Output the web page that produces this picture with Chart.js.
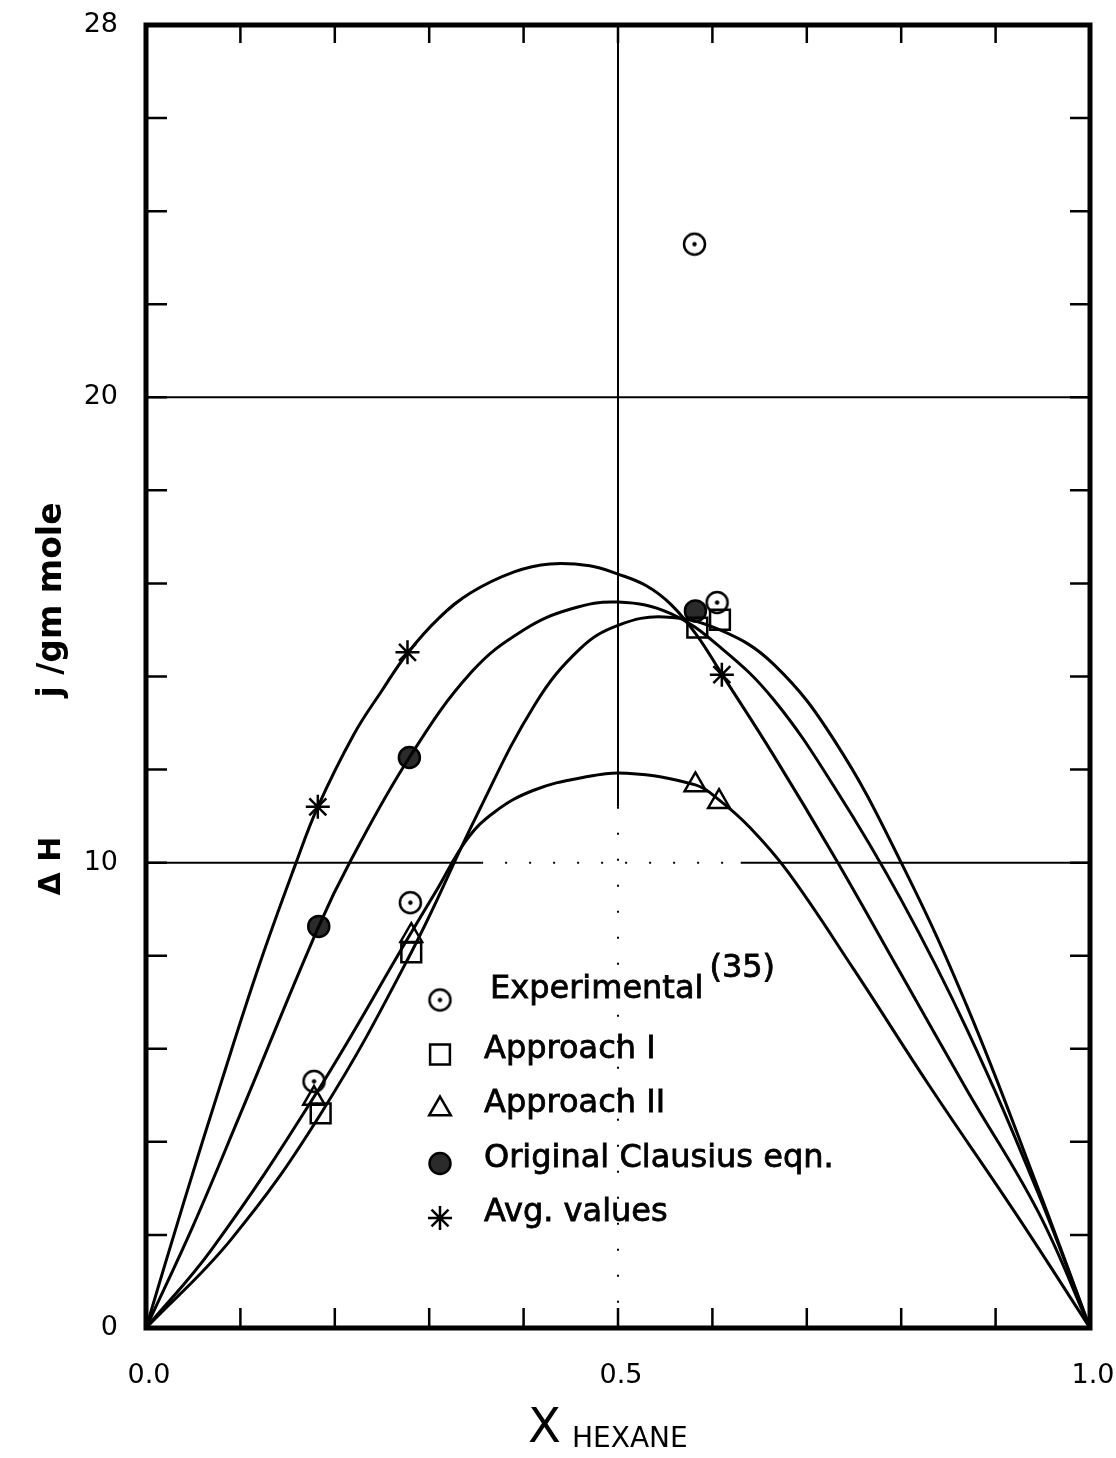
<!DOCTYPE html>
<html>
<head>
<meta charset="utf-8">
<script src="https://cdn.jsdelivr.net/npm/chart.js@4.4.1/dist/chart.umd.min.js"></script>
<style>
  html, body { margin: 0; padding: 0; background: #fff; }
</style>
</head>
<body>
<canvas id="dh" width="1116" height="1458"></canvas>
<script>
// smoothed curves, x = mole fraction hexane, y = dH (j/gm mole)
const avgCurveX = [0, 0.04, 0.08, 0.12, 0.159, 0.182, 0.22, 0.25, 0.277, 0.31, 0.344, 0.39, 0.428, 0.47, 0.5, 0.53, 0.556, 0.583, 0.61, 0.665, 0.73, 0.8, 0.87, 0.945, 1.0];
const avgCurveY = [0, 2.7, 5.3, 7.8, 10.0, 11.2, 12.75, 13.7, 14.5, 15.25, 15.8, 16.25, 16.42, 16.38, 16.2, 15.95, 15.55, 14.9, 14.05, 12.3, 10.1, 7.6, 5.1, 2.5, 0];

const clausCurveX = [0, 0.05, 0.1, 0.183, 0.217, 0.279, 0.345, 0.4, 0.45, 0.5, 0.556, 0.61, 0.665, 0.73, 0.8, 0.87, 0.945, 1.0];
const clausCurveY = [0, 2.2, 4.6, 8.63, 10.05, 12.26, 14.1, 15.0, 15.45, 15.6, 15.35, 14.6, 13.5, 11.6, 9.2, 6.4, 2.9, 0];

const app1CurveX = [0, 0.09, 0.185, 0.281, 0.35, 0.412, 0.46, 0.5, 0.549, 0.608, 0.665, 0.73, 0.8, 0.87, 0.945, 1.0];
const app1CurveY = [0, 1.9, 4.6, 8.07, 11.0, 13.4, 14.6, 15.1, 15.28, 15.0, 14.26, 12.6, 10.0, 6.9, 3.0, 0];

const app2CurveX = [0, 0.07, 0.179, 0.281, 0.308, 0.34, 0.37, 0.41, 0.46, 0.509, 0.582, 0.607, 0.64, 0.68, 0.75, 0.83, 0.92, 1.0];
const app2CurveY = [0, 1.7, 5.0, 8.5, 9.41, 10.5, 11.1, 11.55, 11.82, 11.92, 11.67, 11.35, 10.75, 9.8, 7.7, 5.2, 2.5, 0];

// plotted points
const expX = [0.178, 0.28, 0.581, 0.605];
const expY = [5.3, 9.14, 23.29, 15.59];
const app1X = [0.185, 0.281, 0.584, 0.608];
const app1Y = [4.61, 8.07, 15.05, 15.22];
const app2X = [0.178, 0.281, 0.582, 0.607];
const app2Y = [4.93, 8.43, 11.67, 11.31];
const clausX = [0.183, 0.279, 0.582];
const clausY = [8.63, 12.26, 15.41];
const avgX = [0.182, 0.277, 0.61];
const avgY = [11.2, 14.52, 14.04];

const seriesNames = ['Experimental', 'Approach I', 'Approach II', 'Original Clausius eqn.', 'Avg. values'];
const yLabels = [0, 10, 20, 28];
const xLabels = [0, 0.5, 1.0];

const FONT = '"DejaVu Sans", sans-serif';

function pts(xs, ys) {
  return xs.map((x, i) => ({ x: x, y: ys[i] }));
}

// circle with a dot in the middle
function dotCircle(r) {
  const c = document.createElement('canvas');
  const s = Math.ceil(r * 2 + 6);
  c.width = s; c.height = s;
  const g = c.getContext('2d');
  g.strokeStyle = '#000';
  g.lineWidth = 2.5;
  g.beginPath(); g.arc(s / 2, s / 2, r, 0, Math.PI * 2); g.stroke();
  g.fillStyle = '#000';
  g.beginPath(); g.arc(s / 2, s / 2, 2.2, 0, Math.PI * 2); g.fill();
  return c;
}

function curve(xs, ys) {
  return {
    data: pts(xs, ys),
    showLine: true,
    borderColor: '#000',
    borderWidth: 3,
    pointRadius: 0,
    tension: 0.4,
    isCurve: true
  };
}

function marks(label, xs, ys, style, r, fill) {
  return {
    label: label,
    data: pts(xs, ys),
    showLine: false,
    pointStyle: style,
    pointRadius: r,
    pointBorderWidth: 2.5,
    pointBorderColor: '#000',
    pointBackgroundColor: fill
  };
}

const guides = {
  id: 'guides',
  beforeDatasetsDraw(chart) {
    const { ctx, chartArea: a, scales: { x, y } } = chart;
    ctx.save();
    ctx.strokeStyle = '#000';
    function seg(x1, y1, x2, y2, w, dash) {
      ctx.lineWidth = w;
      ctx.setLineDash(dash || []);
      ctx.beginPath();
      ctx.moveTo(x.getPixelForValue(x1), y.getPixelForValue(y1));
      ctx.lineTo(x.getPixelForValue(x2), y.getPixelForValue(y2));
      ctx.stroke();
    }
    seg(0, 20, 1, 20, 2);
    seg(0, 10, 0.355, 10, 2);
    seg(0.355, 10, 0.63, 10, 2, [2, 22]);
    seg(0.63, 10, 1, 10, 2);
    seg(0.5, 28, 0.5, 11.2, 2);
    seg(0.5, 11.2, 0.5, 0, 2, [2, 24]);
    ctx.setLineDash([]);

    // inward tick marks on all four sides
    ctx.lineWidth = 2.5;
    y.ticks.forEach(t => {
      const py = y.getPixelForValue(t.value);
      ctx.beginPath();
      ctx.moveTo(a.left, py); ctx.lineTo(a.left + 21, py);
      ctx.moveTo(a.right, py); ctx.lineTo(a.right - 20, py);
      ctx.stroke();
    });
    x.ticks.forEach(t => {
      const px = x.getPixelForValue(t.value);
      ctx.beginPath();
      ctx.moveTo(px, a.top); ctx.lineTo(px, a.top + 18);
      ctx.moveTo(px, a.bottom); ctx.lineTo(px, a.bottom - 20);
      ctx.stroke();
    });

    ctx.lineWidth = 5;
    ctx.strokeRect(a.left, a.top, a.width, a.height);
    ctx.restore();
  }
};

const labels = {
  id: 'labels',
  afterDraw(chart) {
    const { ctx, chartArea: a } = chart;
    ctx.save();
    ctx.fillStyle = '#000';
    ctx.strokeStyle = '#000';

    // legend inside the plot
    const markers = chart.data.datasets.filter(d => !d.isCurve);
    const mx = a.left + 294, tx = a.left + 338;
    markers.forEach((d, i) => {
      const cy = a.top + 975 + i * 54.5;
      ctx.lineWidth = 2.5;
      ctx.fillStyle = d.pointBackgroundColor;
      Chart.helpers.drawPoint(ctx, {
        pointStyle: d.pointStyle, radius: d.pointRadius, rotation: 0, borderWidth: 2.5
      }, mx, cy);
      ctx.fillStyle = '#000';
      ctx.lineWidth = 0.8;
      ctx.font = '32px ' + FONT;
      ctx.textBaseline = 'middle';
      ctx.textAlign = 'left';
      const lx = i === 0 ? tx + 6 : tx;
      const ly = i === 0 ? cy - 10 : cy - 5;
      ctx.fillText(d.label, lx, ly);
      ctx.strokeText(d.label, lx, ly);
      if (i === 0) {
        const w = ctx.measureText(d.label).width;
        ctx.fillText('(35)', lx + w + 6, ly - 21);
        ctx.strokeText('(35)', lx + w + 6, ly - 21);
      }
    });

    // x title with subscript
    ctx.textBaseline = 'alphabetic';
    ctx.textAlign = 'left';
    ctx.font = '48px ' + FONT;
    ctx.fillText('X', 528, 1442);
    ctx.font = '28px ' + FONT;
    ctx.fillText('HEXANE', 572, 1447);

    // y title
    ctx.textAlign = 'center';
    ctx.textBaseline = 'middle';
    ctx.save();
    ctx.font = 'bold 30px ' + FONT;
    ctx.translate(52, 866); ctx.rotate(-Math.PI / 2);
    ctx.fillText('\u0394 H', 0, 0);
    ctx.restore();
    ctx.save();
    ctx.font = 'bold 33px ' + FONT;
    ctx.translate(52, 600); ctx.rotate(-Math.PI / 2);
    ctx.fillText('j /gm mole', 0, 0);
    ctx.restore();
    ctx.restore();
  }
};

const near = (v, list) => list.some(l => Math.abs(v - l) < 1e-6);

new Chart(document.getElementById('dh'), {
  type: 'scatter',
  data: {
    datasets: [
      curve(avgCurveX, avgCurveY),
      curve(clausCurveX, clausCurveY),
      curve(app1CurveX, app1CurveY),
      curve(app2CurveX, app2CurveY),
      marks(seriesNames[0], expX, expY, dotCircle(10.5), 11, '#fff'),
      marks(seriesNames[1], app1X, app1Y, 'rect', 14, 'rgba(255,255,255,0)'),
      marks(seriesNames[2], app2X, app2Y, 'triangle', 12.5, 'rgba(255,255,255,0)'),
      marks(seriesNames[3], clausX, clausY, 'circle', 10.5, '#2b2b2b'),
      marks(seriesNames[4], avgX, avgY, 'star', 12, '#000')
    ]
  },
  options: {
    responsive: false,
    animation: false,
    layout: { padding: { left: 0, right: 26, top: 25, bottom: 0 } },
    plugins: {
      legend: { display: false },
      tooltip: { enabled: false }
    },
    scales: {
      x: {
        type: 'linear',
        min: 0,
        max: 1,
        grid: { display: false },
        border: { display: false },
        afterFit: s => { s.height = 130; s.paddingLeft = 0; s.paddingRight = 0; },
        ticks: {
          stepSize: 0.1,
          autoSkip: false,
          maxRotation: 0,
          padding: 24,
          labelOffset: 3,
          color: '#000',
          font: { family: FONT, size: 27 },
          callback: v => near(v, xLabels) ? v.toFixed(1) : ''
        }
      },
      y: {
        min: 0,
        max: 28,
        grid: { display: false },
        border: { display: false },
        afterFit: s => { s.width = 146; s.paddingTop = 0; s.paddingBottom = 0; },
        ticks: {
          stepSize: 2,
          autoSkip: false,
          padding: 20,
          color: '#000',
          font: { family: FONT, size: 27 },
          callback: v => near(v, yLabels) ? String(v) : ''
        }
      }
    }
  },
  plugins: [guides, labels]
});
</script>
</body>
</html>
